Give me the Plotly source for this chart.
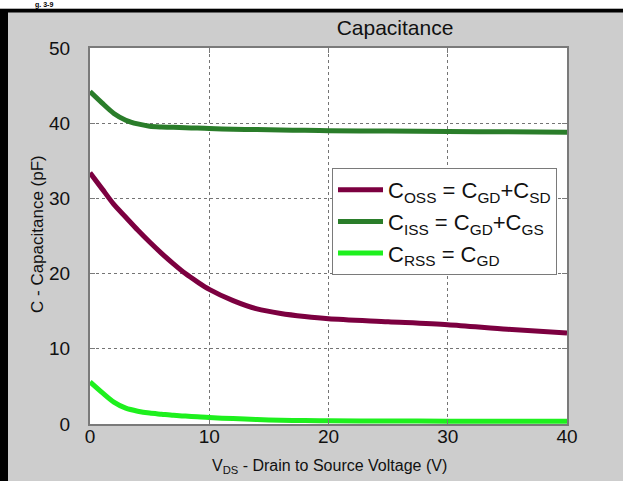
import plotly.graph_objects as go

# ---- data ----
vds = [0, 1, 2, 3, 4, 5, 6, 7, 8, 9, 10, 12, 14, 16, 18, 20, 25, 30, 35, 40]
coss = [33.4, 31.3, 29.2, 27.5, 25.8, 24.2, 22.7, 21.3, 20.0, 18.9, 17.9,
        16.4, 15.3, 14.7, 14.3, 14.0, 13.6, 13.2, 12.6, 12.1]
ciss = [44.2, 42.7, 41.3, 40.4, 39.9, 39.6, 39.5, 39.45, 39.4, 39.35, 39.3,
        39.2, 39.15, 39.1, 39.05, 39.0, 38.95, 38.9, 38.85, 38.8]
crss = [5.6, 4.2, 2.9, 2.1, 1.7, 1.45, 1.3, 1.15, 1.05, 0.95, 0.85,
        0.72, 0.6, 0.5, 0.45, 0.42, 0.4, 0.38, 0.36, 0.35]

series_names = [
    "C<sub>OSS</sub> = C<sub>GD</sub>+C<sub>SD</sub>",
    "C<sub>ISS</sub> = C<sub>GD</sub>+C<sub>GS</sub>",
    "C<sub>RSS</sub> = C<sub>GD</sub>",
]
series_colors = ["#7c0040", "#2a7d2a", "#1ef01e"]
x_ticks = [0, 10, 20, 30, 40]
y_ticks = [0, 10, 20, 30, 40, 50]
x_title = "V<sub>DS</sub> - Drain to Source Voltage (V)"
y_title = "C - Capacitance (pF)"
chart_title = "Capacitance"

# ---- layout geometry (pixels) ----
W, H = 623, 481
L, R, T, B = 90, 56, 48, 57
PW, PH = W - L - R, H - T - B
FONT = "Liberation Sans, Arial, sans-serif"
INK = "#111111"
BG = "#cdcdcd"


def px(xp):
    return (xp - L) / PW


def py(yp):
    return (H - B - yp) / PH


fig = go.Figure()
for name, ys, col in zip(series_names, [coss, ciss, crss], series_colors):
    fig.add_trace(go.Scatter(
        x=vds, y=ys, name=name, mode="lines",
        line=dict(color=col, width=5, shape="spline", smoothing=0.8),
    ))

axis_common = dict(
    showgrid=True, gridcolor="#747474", griddash="dot", gridwidth=1,
    showline=True, linecolor="#7a7a7a", linewidth=2, mirror="ticks",
    ticks="inside", ticklen=5, tickcolor="#7a7a7a", tickwidth=1,
    zeroline=False, automargin=False,
    tickfont=dict(family=FONT, size=19, color=INK),
)

fig.update_xaxes(range=[0, 40], tickvals=x_ticks, ticklabelstandoff=-6, **axis_common)
fig.update_yaxes(range=[0, 50], tickvals=y_ticks, ticklabelstandoff=14, **axis_common)

shapes = [
    # gray cover on the right edge
    dict(type="rect", xref="paper", yref="paper", x0=px(600), x1=px(W + 10),
         y0=py(H + 10), y1=py(12.5), fillcolor=BG, line=dict(width=0), layer="above"),
    # black horizontal band
    dict(type="rect", xref="paper", yref="paper", x0=px(0), x1=px(W),
         y0=py(12.5), y1=py(8.5), fillcolor="black", line=dict(width=0), layer="above"),
    # white strip at very top
    dict(type="rect", xref="paper", yref="paper", x0=px(0), x1=px(W),
         y0=py(8.5), y1=py(0), fillcolor="white", line=dict(width=0), layer="above"),
    # black left band
    dict(type="rect", xref="paper", yref="paper", x0=px(0), x1=px(8),
         y0=py(H), y1=py(9), fillcolor="black", line=dict(width=0), layer="above"),
]

fig.update_layout(
    width=W, height=H,
    margin=dict(l=L, r=R, t=T, b=B, pad=0, autoexpand=False),
    paper_bgcolor=BG, plot_bgcolor="white",
    font=dict(family=FONT, color=INK),
    title=dict(text=chart_title, font=dict(family=FONT, size=21, color=INK),
               xref="paper", x=px(395), xanchor="center",
               yref="container", y=1 - 28 / H, yanchor="middle"),
    showlegend=True,
    legend=dict(
        x=px(332), y=py(168), xanchor="left", yanchor="top",
        bgcolor="white", bordercolor="#7a7a7a", borderwidth=1,
        font=dict(family=FONT, size=22, color=INK),
        itemwidth=45, tracegroupgap=0,
    ),
    shapes=shapes,
    annotations=[
        dict(text=x_title, xref="paper", yref="paper",
             x=px(329), y=py(466), xanchor="center", yanchor="middle",
             showarrow=False, font=dict(family=FONT, size=16, color=INK)),
        dict(text=y_title, xref="paper", yref="paper", textangle=-90,
             x=px(37), y=py(234), xanchor="center", yanchor="middle",
             showarrow=False, font=dict(family=FONT, size=17, color=INK)),
        dict(text="<b>g. 3-9</b>", xref="paper", yref="paper",
             x=px(34), y=py(0), xanchor="left", yanchor="top",
             showarrow=False, borderpad=0,
             font=dict(family=FONT, size=7, color="black")),
    ],
)

fig.write_html(
    "out.html",
    config={"displayModeBar": False},
    post_script="document.body.style.margin='0';document.body.style.padding='0';"
                "document.body.style.overflow='hidden';"
                "document.documentElement.style.overflow='hidden';"
                "document.documentElement.style.background='#cdcdcd';",
)
